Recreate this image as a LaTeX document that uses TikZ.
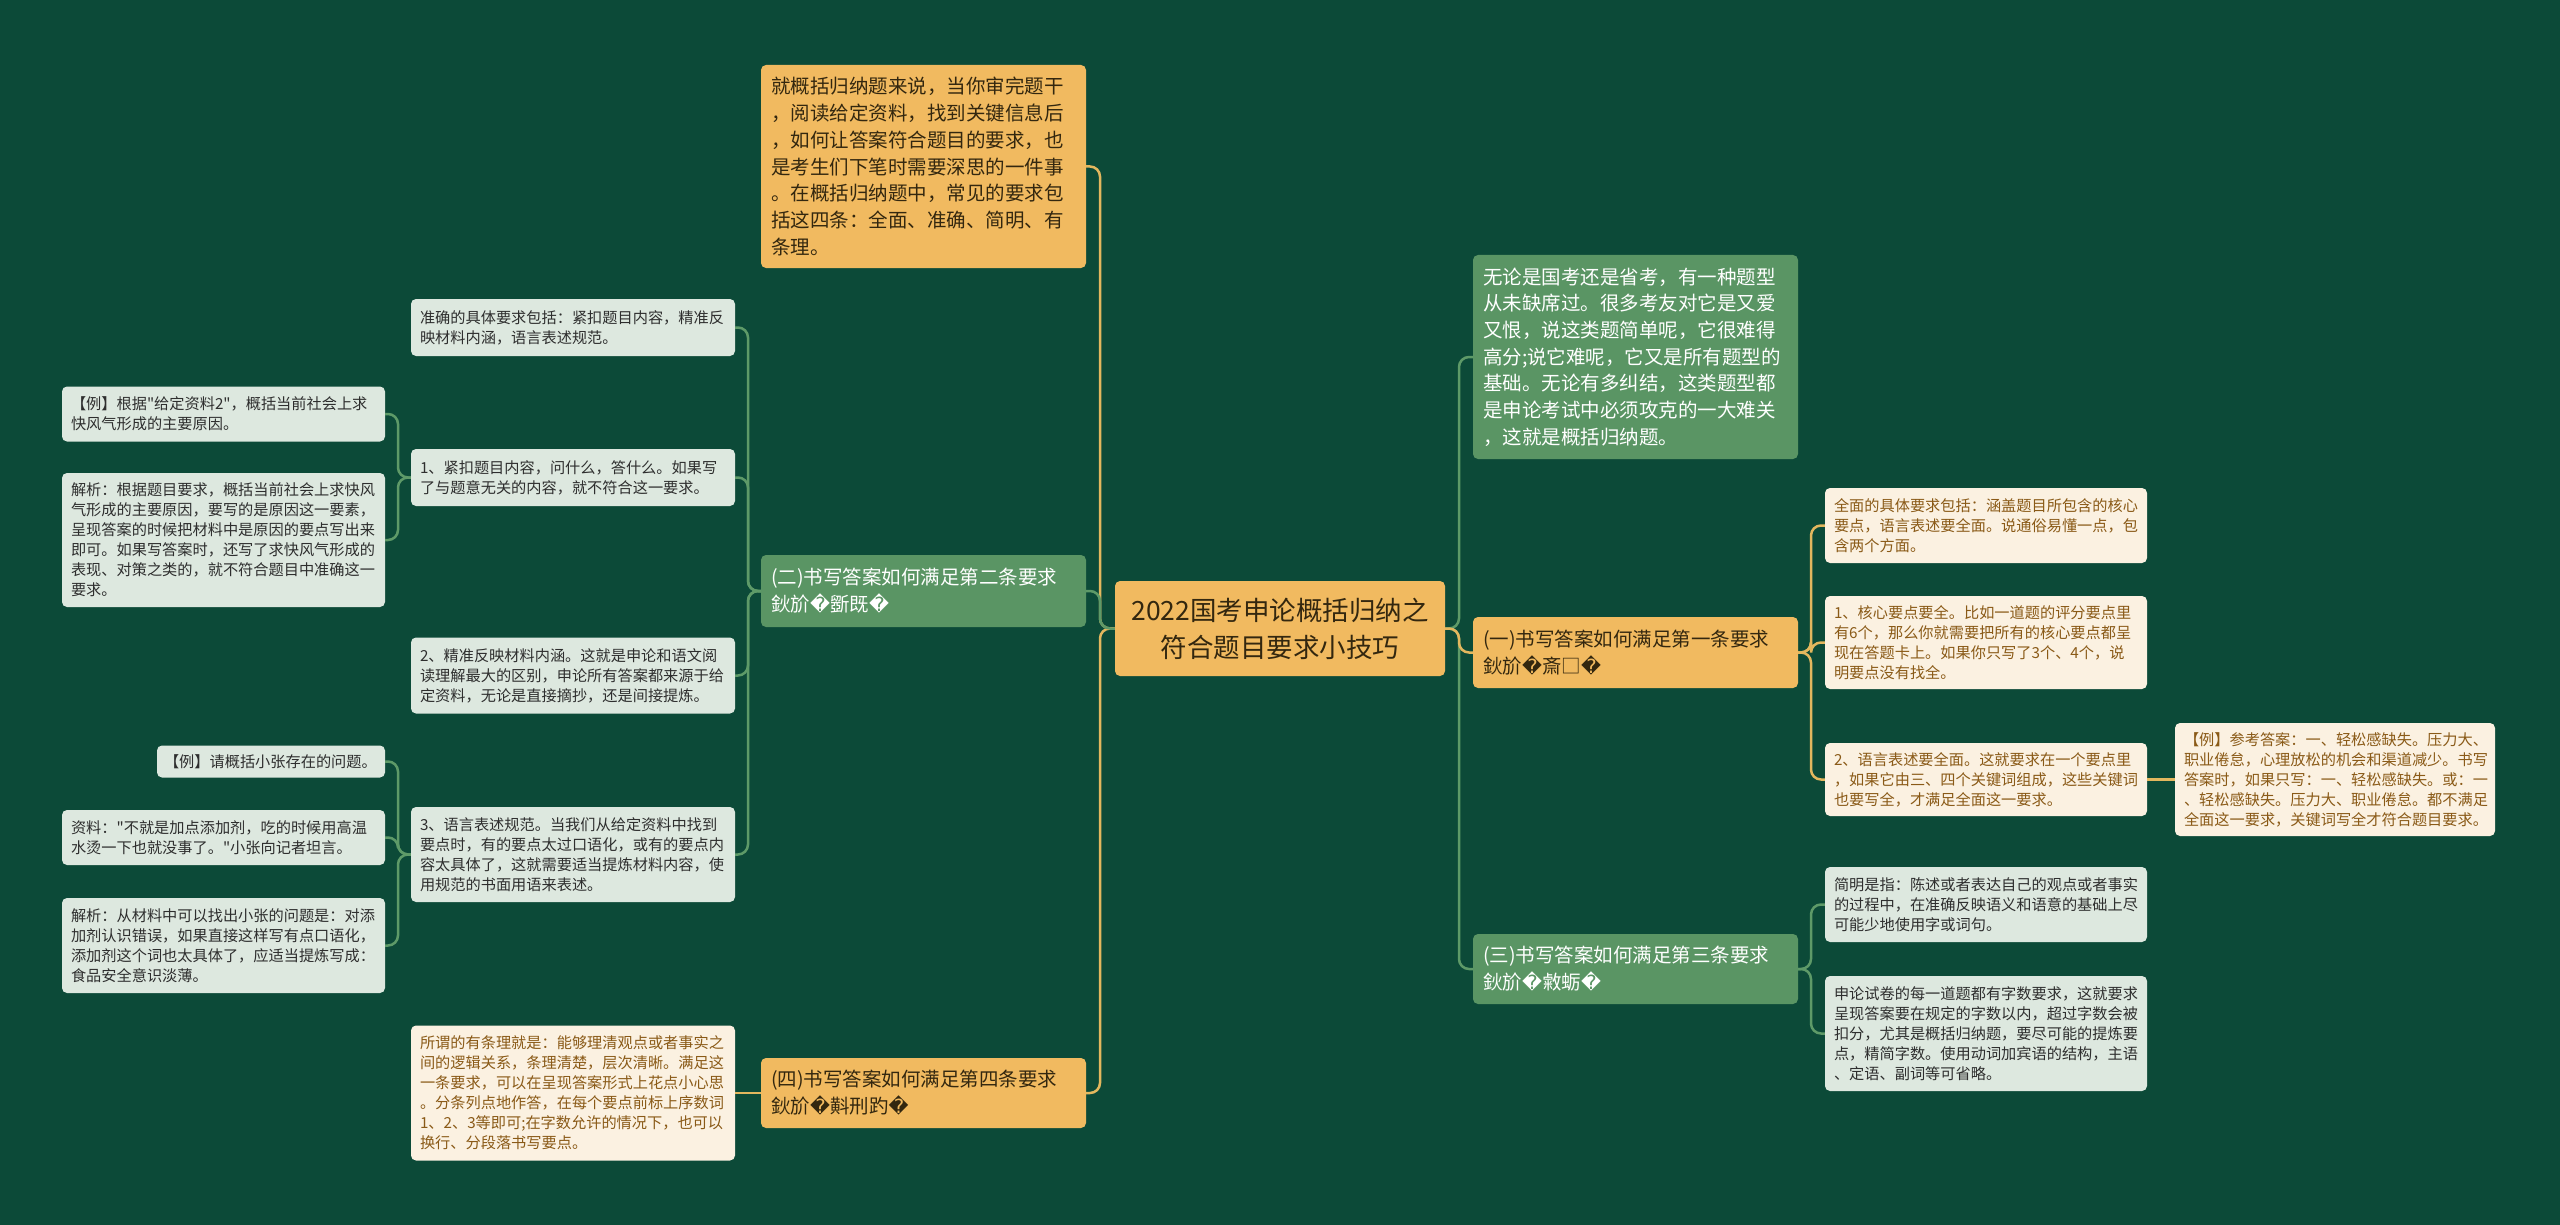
\documentclass[tikz,border=0pt]{standalone}
\usepackage{fontspec}
\setmainfont{Noto Sans CJK SC}
\newfontfamily\plainq{Noto Sans CJK SC}
\newfontfamily\dvsfont{DejaVu Sans}
\newcommand\repch{{\dvsfont\char"FFFD}}
\newcommand\dq{{\plainq"}}
\definecolor{bgc}{HTML}{0C4A38}
\definecolor{orfill}{HTML}{F1BA60}
\definecolor{ortext}{HTML}{33270F}
\definecolor{grfill}{HTML}{5A9564}
\definecolor{ltfill}{HTML}{DDE8DF}
\definecolor{lttext}{HTML}{2E2E2E}
\definecolor{crfill}{HTML}{FBF1E1}
\definecolor{crtext}{HTML}{8A5A17}
\definecolor{lkgold}{HTML}{E3B75E}
\definecolor{lkgreen}{HTML}{5E9A68}
\begin{document}
\begin{tikzpicture}[x=1pt,y=-1pt,
  box/.style={rounded corners=5pt, inner ysep=3pt, align=left, anchor=center},
  midtxt/.style={box, inner xsep=10pt, minimum width=325pt, text width=305pt, font=\fontsize{19.5}{26.7}\selectfont},
  lvtxt/.style={box, inner xsep=10pt, minimum width=325pt, text width=305pt, font=\fontsize{19.5}{27}\selectfont},
  smtxt/.style={box, inner xsep=9pt, minimum width=324pt, text width=306pt, font=\fontsize{15.2}{20}\selectfont},
  orange/.style={fill=orfill, text=ortext},
  green/.style={fill=grfill, text=white},
  light/.style={fill=ltfill, text=lttext},
  cream/.style={fill=crfill, text=crtext},
  gl/.style={draw=lkgold, line width=2.5pt, rounded corners=10pt},
  gg/.style={draw=lkgreen, line width=2.5pt, rounded corners=10pt}]
\fill[bgc] (0,0) rectangle (2560,1225);

% central
\node[box, orange, inner xsep=10pt, minimum width=330pt, text width=310pt, minimum height=95pt, align=center, font=\fontsize{26.5}{37}\selectfont] (c) at (1280,628.5) {2022国考申论概括归纳之\\符合题目要求小技巧};

% left side
\node[midtxt, orange, minimum height=203pt] (top) at (923.5,166.5) {就概括归纳题来说，当你审完题干\\，阅读给定资料，找到关键信息后\\，如何让答案符合题目的要求，也\\是考生们下笔时需要深思的一件事\\。在概括归纳题中，常见的要求包\\括这四条：全面、准确、简明、有\\条理。};
\node[lvtxt, green, minimum height=72pt] (g2) at (923.5,591) {(二)书写答案如何满足第二条要求\\鈥斺\repch 斵既\repch};
\node[lvtxt, orange, minimum height=70pt] (o4) at (923.5,1093) {(四)书写答案如何满足第四条要求\\鈥斺\repch 斢刑趵\repch};

\node[smtxt, light, minimum height=57pt] (s1) at (573,327.5) {准确的具体要求包括：紧扣题目内容，精准反\\映材料内涵，语言表述规范。};
\node[smtxt, light, minimum height=57pt] (s2) at (573,477.5) {1、紧扣题目内容，问什么，答什么。如果写\\了与题意无关的内容，就不符合这一要求。};
\node[smtxt, light, minimum height=76pt] (s3) at (573,675.5) {2、精准反映材料内涵。这就是申论和语文阅\\读理解最大的区别，申论所有答案都来源于给\\定资料，无论是直接摘抄，还是间接提炼。};
\node[smtxt, light, minimum height=95pt] (s4) at (573,854.5) {3、语言表述规范。当我们从给定资料中找到\\要点时，有的要点太过口语化，或有的要点内\\容太具体了，这就需要适当提炼材料内容，使\\用规范的书面用语来表述。};
\node[smtxt, cream, minimum height=135pt] (c1) at (573,1093) {所谓的有条理就是：能够理清观点或者事实之\\间的逻辑关系，条理清楚，层次清晰。满足这\\一条要求，可以在呈现答案形式上花点小心思\\。分条列点地作答，在每个要点前标上序数词\\1、2、3等即可;在字数允许的情况下，也可以\\换行、分段落书写要点。};

\node[smtxt, light, minimum width=323pt, text width=305pt, minimum height=55pt] (t1) at (223.5,414) {【例】根据\dq 给定资料2\dq ，概括当前社会上求\\快风气形成的主要原因。};
\node[smtxt, light, minimum width=323pt, text width=305pt, minimum height=134pt] (t2) at (223.5,540) {解析：根据题目要求，概括当前社会上求快风\\气形成的主要原因，要写的是原因这一要素，\\呈现答案的时候把材料中是原因的要点写出来\\即可。如果写答案时，还写了求快风气形成的\\表现、对策之类的，就不符合题目中准确这一\\要求。};
\node[smtxt, light, inner xsep=7pt, minimum width=228pt, text width=214pt, minimum height=32pt] (t3) at (271,761.5) {【例】请概括小张存在的问题。};
\node[smtxt, light, minimum width=323pt, text width=305pt, minimum height=55pt] (t4) at (223.5,837.5) {资料：\dq 不就是加点添加剂，吃的时候用高温\\水烫一下也就没事了。\dq 小张向记者坦言。};
\node[smtxt, light, minimum width=323pt, text width=305pt, minimum height=95pt] (t5) at (223.5,945.5) {解析：从材料中可以找出小张的问题是：对添\\加剂认识错误，如果直接这样写有点口语化，\\添加剂这个词也太具体了，应适当提炼写成：\\食品安全意识淡薄。};

% right side
\node[midtxt, green, minimum height=204pt] (gr) at (1635.5,357) {无论是国考还是省考，有一种题型\\从未缺席过。很多考友对它是又爱\\又恨，说这类题简单呢，它很难得\\高分;说它难呢，它又是所有题型的\\基础。无论有多纠结，这类题型都\\是申论考试中必须攻克的一大难关\\，这就是概括归纳题。};
\node[lvtxt, orange, minimum height=71pt] (o1) at (1635.5,652.5) {(一)书写答案如何满足第一条要求\\鈥斺\repch 斎□\repch};
\node[lvtxt, green, minimum height=70pt] (g3) at (1635.5,969) {(三)书写答案如何满足第三条要求\\鈥斺\repch 敹蛎\repch};

\node[smtxt, cream, minimum width=322pt, text width=304pt, minimum height=75pt] (r1) at (1986,525.5) {全面的具体要求包括：涵盖题目所包含的核心\\要点，语言表述要全面。说通俗易懂一点，包\\含两个方面。};
\node[smtxt, cream, minimum width=322pt, text width=304pt, minimum height=93pt] (r2) at (1986,642.5) {1、核心要点要全。比如一道题的评分要点里\\有6个，那么你就需要把所有的核心要点都呈\\现在答题卡上。如果你只写了3个、4个，说\\明要点没有找全。};
\node[smtxt, cream, minimum width=322pt, text width=304pt, minimum height=73pt] (r3) at (1986,779.5) {2、语言表述要全面。这就要求在一个要点里\\，如果它由三、四个关键词组成，这些关键词\\也要写全，才满足全面这一要求。};
\node[smtxt, cream, minimum width=320pt, text width=302pt, minimum height=113pt] (r4) at (2335,779.5) {【例】参考答案：一、轻松感缺失。压力大、\\职业倦怠，心理放松的机会和渠道减少。书写\\答案时，如果只写：一、轻松感缺失。或：一\\、轻松感缺失。压力大、职业倦怠。都不满足\\全面这一要求，关键词写全才符合题目要求。};
\node[smtxt, light, minimum width=322pt, text width=304pt, minimum height=75pt] (r5) at (1986,904.5) {简明是指：陈述或者表达自己的观点或者事实\\的过程中，在准确反映语义和语意的基础上尽\\可能少地使用字或词句。};
\node[smtxt, light, minimum width=322pt, text width=304pt, minimum height=115pt] (r6) at (1986,1033.5) {申论试卷的每一道题都有字数要求，这就要求\\呈现答案要在规定的字数以内，超过字数会被\\扣分，尤其是概括归纳题，要尽可能的提炼要\\点，精简字数。使用动词加宾语的结构，主语\\、定语、副词等可省略。};

% connectors
\coordinate (Lt) at (1100,628.5);
\coordinate (Rt) at (1459,628.5);
\draw[gl] (c.west) -- (Lt) |- (top.east);
\draw[gl] (c.west) -- (Lt) |- (o4.east);
\draw[gg] (c.west) -- (Lt) |- (g2.east);
\draw[gg] (c.east) -- (Rt) |- (gr.west);
\draw[gg] (c.east) -- (Rt) |- (g3.west);
\draw[gl] (c.east) -- (Rt) |- (o1.west);

\coordinate (T2) at (748,591);
\foreach \n in {s1,s2,s3,s4} \draw[gg] (g2.west) -- (T2) |- (\n.east);
\coordinate (T3) at (398,477.5);
\foreach \n in {t1,t2} \draw[gg] (s2.west) -- (T3) |- (\n.east);
\coordinate (T4) at (398,854.5);
\foreach \n in {t3,t4,t5} \draw[gg] (s4.west) -- (T4) |- (\n.east);
\draw[gl] (o4.west) -- (c1.east);

\coordinate (T6) at (1811,652.5);
\foreach \n in {r1,r2,r3} \draw[gl] (o1.east) -- (T6) |- (\n.west);
\draw[gl] (r3.east) -- (r4.west);
\coordinate (T7) at (1811,969);
\foreach \n in {r5,r6} \draw[gg] (g3.east) -- (T7) |- (\n.west);
\end{tikzpicture}
\end{document}
